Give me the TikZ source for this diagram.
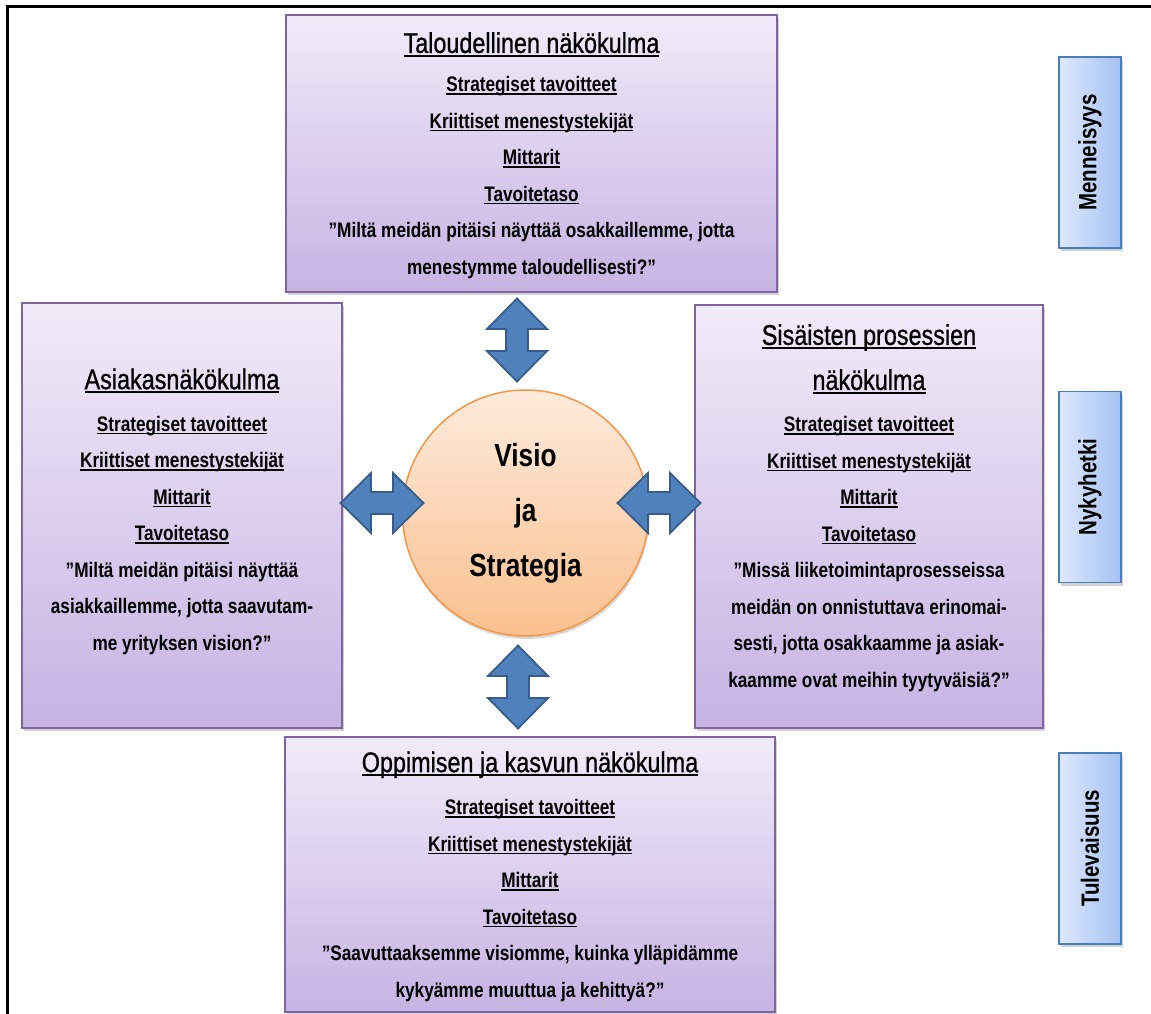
\documentclass[tikz,border=0pt]{standalone}
\usepackage{fontspec}
\usepackage{graphicx}
\setmainfont{Liberation Sans}[FakeStretch=0.82]
\newfontfamily\ttlfont{Liberation Sans}[FakeStretch=0.82, FakeBold=0.8]
\usetikzlibrary{shadows,calc}
\definecolor{pborder}{HTML}{8064A2}
\definecolor{ptop}{HTML}{F0EBF9}
\definecolor{pbot}{HTML}{C7B3E3}
\definecolor{bborder}{HTML}{4A7EBB}
\definecolor{bleft}{HTML}{DDE8FC}
\definecolor{bright}{HTML}{A5C2F2}
\definecolor{otop}{HTML}{FDEBDC}
\definecolor{obot}{HTML}{FAC08F}
\definecolor{oborder}{HTML}{F79646}
\definecolor{afill}{HTML}{4F81BD}
\definecolor{aborder}{HTML}{385D8A}
\newsavebox\ulbox
\newcommand\myul[1]{\sbox\ulbox{#1}\rlap{\rule[-0.14em]{\wd\ulbox}{0.07em}}\usebox\ulbox}
\newcommand\ttl[1]{{\fontsize{28.5}{36.5}\ttlfont\mdseries\myul{#1}}}
\tikzset{
  pbox/.style={draw=pborder, line width=2pt, top color=ptop, bottom color=pbot,
    inner sep=0pt,
    drop shadow={opacity=0.35, shadow xshift=2pt, shadow yshift=-3pt}},
  ptext/.style={inner sep=0pt, align=center, font=\fontsize{21}{36.5}\selectfont\bfseries},
  bbox/.style={draw=bborder, line width=1.5pt, left color=bleft, right color=bright,
    inner sep=0pt, font=\fontsize{25}{28}\selectfont\bfseries,
    minimum width=62pt, minimum height=191pt,
    drop shadow={opacity=0.35, shadow xshift=2pt, shadow yshift=-3pt}},
  pics/dblarrow/.style={code={
    \draw[fill=afill, draw=aborder, line width=1.8pt, line join=miter]
      (-41.5,0) -- (-11,30) -- (-11,11) -- (11,11) -- (11,30) -- (41.5,0)
      -- (11,-30) -- (11,-11) -- (-11,-11) -- (-11,-30) -- cycle;}}
}
\begin{document}
\begin{tikzpicture}[x=1pt, y=-1pt]
\useasboundingbox (0,0) rectangle (1151,1014);
\fill[white] (0,0) rectangle (1151,1014);
% frame
\coordinate (fr1) at (7,1014);
\coordinate (fr2) at (7,7);
\coordinate (fr3) at (1151,7);
\draw[line width=3pt, line cap=rect] (fr1) -- (fr2) -- (fr3);

% perspective boxes
\node[pbox, minimum width=491pt, minimum height=277pt] (fin) at (531.5,153.5) {};
\node[ptext] (fint) at ($(fin.center)+(0,2)$)
 {\ttl{Taloudellinen näkökulma}\\[2.5pt]
  \myul{Strategiset tavoitteet}\\
  \myul{Kriittiset menestystekijät}\\
  \myul{Mittarit}\\
  \myul{Tavoitetaso}\\
  ”Miltä meidän pitäisi näyttää osakkaillemme, jotta\\
  menestymme taloudellisesti?”};

\node[pbox, minimum width=320pt, minimum height=425pt] (cust) at (182,515.5) {};
\node[ptext] (custt) at ($(cust.center)+(0,-4)$)
 {\ttl{Asiakasnäkökulma}\\[5.5pt]
  \myul{Strategiset tavoitteet}\\
  \myul{Kriittiset menestystekijät}\\
  \myul{Mittarit}\\
  \myul{Tavoitetaso}\\
  ”Miltä meidän pitäisi näyttää\\
  asiakkaillemme, jotta saavutam-\\
  me yrityksen vision?”};

\node[pbox, minimum width=348pt, minimum height=423pt] (proc) at (869,516.5) {};
\node[ptext] (proct) at ($(proc.center)+(0,-8.5)$)
 {\ttl{Sisäisten prosessien}\\[8.5pt]
  \ttl{näkökulma}\\[5.5pt]
  \myul{Strategiset tavoitteet}\\
  \myul{Kriittiset menestystekijät}\\
  \myul{Mittarit}\\
  \myul{Tavoitetaso}\\
  ”Missä liiketoimintaprosesseissa\\
  meidän on onnistuttava erinomai-\\
  sesti, jotta osakkaamme ja asiak-\\
  kaamme ovat meihin tyytyväisiä?”};

\node[pbox, minimum width=490pt, minimum height=275pt] (learn) at (530,874.5) {};
\node[ptext] (learnt) at ($(learn.center)+(0,2)$)
 {\ttl{Oppimisen ja kasvun näkökulma}\\[6pt]
  \myul{Strategiset tavoitteet}\\
  \myul{Kriittiset menestystekijät}\\
  \myul{Mittarit}\\
  \myul{Tavoitetaso}\\
  ”Saavuttaaksemme visiomme, kuinka ylläpidämme\\
  kykyämme muuttua ja kehittyä?”};

% centre circle
\node[circle, draw=oborder, line width=1.5pt, top color=otop, bottom color=obot,
  minimum size=246pt, inner sep=0pt, align=center,
  font=\fontsize{32}{55}\selectfont\bfseries,
  drop shadow={opacity=0.3, shadow xshift=1pt, shadow yshift=-3pt}] (vis) at (525.5,513)
 {Visio\\ja\\Strategia};

% double arrows
\coordinate (aT) at (517,340);
\coordinate (aB) at (518,687);
\coordinate (aL) at (382,503);
\coordinate (aR) at (659,503);
\pic[rotate=90] at (aT) {dblarrow};
\pic[rotate=90] at (aB) {dblarrow};
\pic at (aL) {dblarrow};
\pic at (aR) {dblarrow};

% time labels
\node[bbox] (past) at (1090,152.5) {\rotatebox{90}{Menneisyys}};
\node[bbox] (now) at (1090,487) {\rotatebox{90}{Nykyhetki}};
\node[bbox] (fut) at (1090,848.5) {\rotatebox{90}{Tulevaisuus}};
\end{tikzpicture}
\end{document}
